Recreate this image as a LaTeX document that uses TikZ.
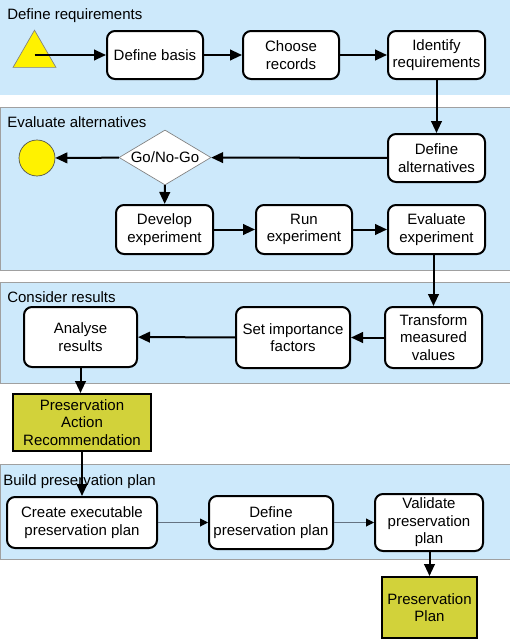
\documentclass[tikz,border=0pt]{standalone}
\usepackage{fontspec}
\setmainfont{Liberation Sans}
\usetikzlibrary{arrows.meta,shapes.geometric}
\definecolor{bandblue}{RGB}{205,233,251}
\definecolor{bandline}{RGB}{160,160,160}
\definecolor{olive}{RGB}{210,210,58}
\definecolor{thinline}{RGB}{100,115,130}
\tikzset{
  band/.style={fill=bandblue,draw=bandline,line width=0.75pt},
  bandlabel/.style={anchor=base west,inner sep=0pt},
  stepbox/.style={draw=black,fill=white,line width=1.5pt,rounded corners=6pt,align=center,inner sep=1pt},
  resultbox/.style={draw=black,fill=olive,line width=1.5pt,align=center,inner sep=1pt},
  flow/.style={line width=1.5pt,-{Triangle[length=9pt,width=8pt]}},
  thinflow/.style={line width=0.75pt,draw=thinline,-{Triangle[length=6pt,width=6pt,fill=black,color=black]}},
}
\begin{document}
\begin{tikzpicture}[x=0.75pt,y=-0.75pt,font=\fontsize{11.25pt}{13.2pt}\selectfont]
\useasboundingbox (0,0) rectangle (510,639);
% bands
\fill[bandblue] (0,0) rectangle (510,95);
\draw[band] (0,107) rectangle (510,270);
\draw[band] (0,282) rectangle (510,383);
\draw[band] (0,464) rectangle (510,559);
\node[bandlabel] (l1) at (7,19) {Define requirements};
\node[bandlabel] (l2) at (7,127) {Evaluate alternatives};
\node[bandlabel] (l3) at (7,302) {Consider results};
\node[bandlabel] (l4) at (3,485) {Build preservation plan};
% nodes
\node[regular polygon,regular polygon sides=3,minimum size=37.2pt,inner sep=0pt,fill=yellow,draw=gray,line width=0.5pt] (tri) at (34.5,55) {};
\node[stepbox,minimum width=72pt,minimum height=36pt] (basis) at (155,55) {Define basis};
\node[stepbox,minimum width=72pt,minimum height=36pt] (choose) at (291,55) {Choose\\records};
\node[stepbox,minimum width=72.75pt,minimum height=36pt] (ident) at (436.5,55) {Identify\\requirements};
\node[stepbox,minimum width=72.75pt,minimum height=36pt] (defalt) at (436.5,158) {Define\\alternatives};
\node[diamond,shape aspect=1.67,inner sep=0pt,minimum width=69pt,minimum height=41.25pt,fill=white,draw=gray,line width=0.5pt] (go) at (165,157.5) {Go/No-Go};
\node[circle,minimum size=27pt,inner sep=0pt,fill=yellow,draw=black!70,line width=0.5pt] (stop) at (37,158) {};
\node[stepbox,minimum width=72.75pt,minimum height=36.75pt] (develop) at (164.5,229.5) {Develop\\experiment};
\node[stepbox,minimum width=72pt,minimum height=36.75pt] (run) at (304,229.5) {Run\\experiment};
\node[stepbox,minimum width=72.75pt,minimum height=36.75pt] (evalx) at (436.5,229.5) {Evaluate\\experiment};
\node[stepbox,minimum width=72.75pt,minimum height=45.75pt] (trans) at (433.5,337.5) {Transform\\measured\\values};
\node[stepbox,minimum width=85.5pt,minimum height=45.75pt] (setimp) at (293,337.5) {Set importance\\factors};
\node[stepbox,minimum width=84.75pt,minimum height=45pt] (analyse) at (80.5,337) {Analyse\\results};
\node[resultbox,minimum width=103.5pt,minimum height=42.75pt] (par) at (82,422.5) {Preservation\\Action\\Recommendation};
\node[stepbox,minimum width=112.5pt,minimum height=38.25pt] (create) at (82,522.5) {Create executable\\preservation plan};
\node[stepbox,minimum width=93pt,minimum height=39.75pt] (defplan) at (271,522.5) {Define\\preservation plan};
\node[stepbox,minimum width=81pt,minimum height=42.75pt] (valid) at (429,522.5) {Validate\\preservation\\plan};
\node[resultbox,minimum width=71.25pt,minimum height=45.75pt] (plan) at (429.5,607.5) {Preservation\\Plan};
% connectors
\draw[flow] (tri.center) -- (basis.west);
\draw[flow] (basis) -- (choose);
\draw[flow] (choose) -- (ident);
\draw[flow] (ident) -- (defalt);
\draw[flow] (defalt) -- (go);
\draw[flow] (go) -- (stop);
\draw[flow] (go) -- (develop);
\draw[flow] (develop) -- (run);
\draw[flow] (run) -- (evalx);
\draw[flow] (evalx.south -| trans.north) -- (trans.north);
\draw[flow] (trans) -- (setimp);
\draw[flow] (setimp) -- (analyse);
\draw[flow] (analyse.south) -- (analyse.south |- par.north);
\draw[flow] (par) -- (create);
\draw[thinflow] (create) -- (defplan);
\draw[thinflow] (defplan) -- (valid);
\draw[flow] (valid.south -| plan.north) -- (plan.north);
\end{tikzpicture}
\end{document}
